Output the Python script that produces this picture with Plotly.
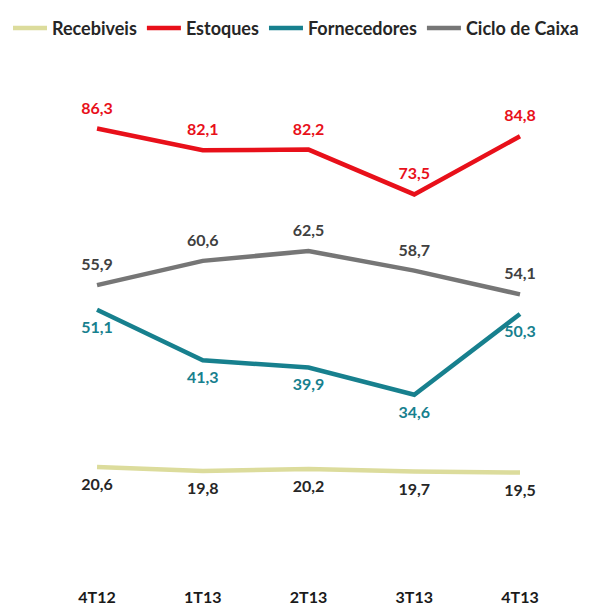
import plotly.graph_objects as go

categories = ["4T12", "1T13", "2T13", "3T13", "4T13"]
recebiveis = [20.6, 19.8, 20.2, 19.7, 19.5]
estoques = [86.3, 82.1, 82.2, 73.5, 84.8]
fornecedores = [51.1, 41.3, 39.9, 34.6, 50.3]
ciclo = [55.9, 60.6, 62.5, 58.7, 54.1]

def fmt(vals):
    return [f"{v:.1f}".replace(".", ",") for v in vals]

series = [
    ("Recebiveis", recebiveis, "#DCDC9C", "#262626", "bottom center"),
    ("Estoques", estoques, "#E8101A", "#E8101A", "top center"),
    ("Fornecedores", fornecedores, "#17808E", "#17808E", "bottom center"),
    ("Ciclo de Caixa", ciclo, "#767676", "#404040", "top center"),
]

fig = go.Figure()
for name, vals, col, tcol, pos in series:
    fig.add_trace(go.Scatter(
        x=categories, y=vals, name=name,
        mode="lines+markers+text",
        line=dict(color=col, width=4.5),
        marker=dict(size=16, color="rgba(0,0,0,0)"),
        text=fmt(vals), textposition=pos,
        textfont=dict(family="Lato", size=16, color=tcol, weight="bold"),
        cliponaxis=False,
    ))

fig.update_layout(
    width=606, height=598,
    margin=dict(l=0, r=0, t=52, b=30),
    paper_bgcolor="white", plot_bgcolor="white",
    showlegend=True,
    legend=dict(orientation="h", x=0.0, y=1.062, xanchor="left", yanchor="middle",
                font=dict(family="Lato", size=18, color="#262626", weight="bold"),
                itemwidth=34, tracegroupgap=0),
    xaxis=dict(type="category", range=[-0.842, 4.889], showgrid=False, zeroline=False,
               showline=False, ticks="outside", ticklen=10, tickcolor="rgba(0,0,0,0)",
               tickfont=dict(family="Lato", size=16, color="#1a1a1a", weight="bold")),
    yaxis=dict(range=[0, 99.6], visible=False),
)
fig.write_html("out.html")
